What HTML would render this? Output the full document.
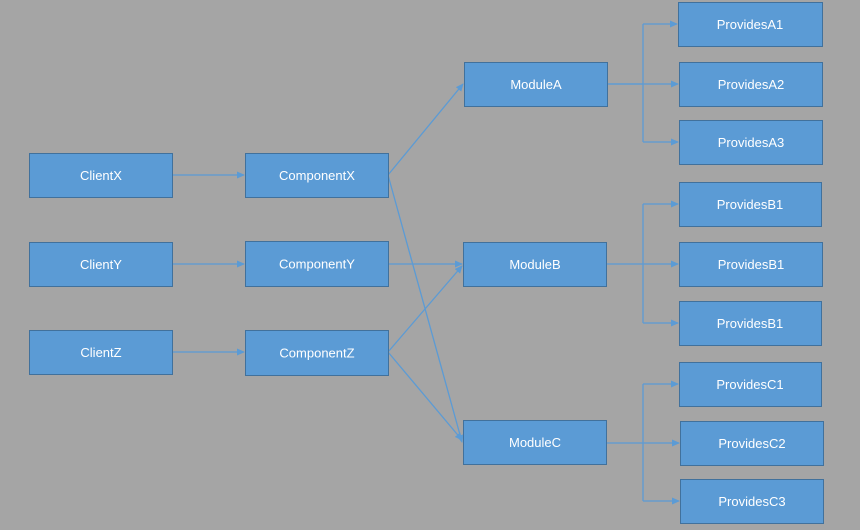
<!DOCTYPE html>
<html><head><meta charset="utf-8"><style>
html,body{margin:0;padding:0;background:#a5a5a5;}
svg{display:block;}
text{font-family:"Liberation Sans",sans-serif;font-size:13px;fill:#fff;text-anchor:middle;dominant-baseline:central;}
rect{fill:#5b9bd5;stroke:#41719c;stroke-width:1;}
line,polyline{stroke:#5b9bd5;stroke-width:1.3;fill:none;}
</style></head><body>
<svg width="860" height="530" viewBox="0 0 860 530">
<defs><marker id="a" markerWidth="8" markerHeight="8" refX="7" refY="3.5" orient="auto" markerUnits="userSpaceOnUse"><path d="M0,0 L8,3.5 L0,7 Z" fill="#5b9bd5"/></marker></defs>
<rect x="0" y="0" width="860" height="530" style="fill:#a5a5a5;stroke:none"/>
<!-- connectors -->
<line x1="172" y1="175" x2="244" y2="175" marker-end="url(#a)"/>
<line x1="172" y1="264" x2="244" y2="264" marker-end="url(#a)"/>
<line x1="172" y1="352" x2="244" y2="352" marker-end="url(#a)"/>
<line x1="388" y1="175" x2="463" y2="84" marker-end="url(#a)"/>
<line x1="388" y1="175" x2="462" y2="442" marker-end="url(#a)"/>
<line x1="388" y1="264" x2="462" y2="264" marker-end="url(#a)"/>
<line x1="388" y1="352" x2="462" y2="266" marker-end="url(#a)"/>
<line x1="388" y1="352" x2="462" y2="440" marker-end="url(#a)"/>
<line x1="607" y1="84" x2="643" y2="84"/>
<polyline points="643,24 643,142"/>
<line x1="643" y1="24" x2="677" y2="24" marker-end="url(#a)"/>
<line x1="607" y1="84" x2="678" y2="84" marker-end="url(#a)"/>
<line x1="643" y1="142" x2="678" y2="142" marker-end="url(#a)"/>
<polyline points="643,204 643,323"/>
<line x1="643" y1="204" x2="678" y2="204" marker-end="url(#a)"/>
<line x1="606" y1="264" x2="678" y2="264" marker-end="url(#a)"/>
<line x1="643" y1="323" x2="678" y2="323" marker-end="url(#a)"/>
<polyline points="643,384 643,501"/>
<line x1="643" y1="384" x2="678" y2="384" marker-end="url(#a)"/>
<line x1="606" y1="443" x2="679" y2="443" marker-end="url(#a)"/>
<line x1="643" y1="501" x2="679" y2="501" marker-end="url(#a)"/>
<!-- boxes -->
<rect x="29.5" y="153.5" width="143" height="44"/><text x="101" y="175.5">ClientX</text>
<rect x="29.5" y="242.5" width="143" height="44"/><text x="101" y="264.5">ClientY</text>
<rect x="29.5" y="330.5" width="143" height="44"/><text x="101" y="352.5">ClientZ</text>
<rect x="245.5" y="153.5" width="143" height="44"/><text x="317" y="175.5">ComponentX</text>
<rect x="245.5" y="241.5" width="143" height="45"/><text x="317" y="264">ComponentY</text>
<rect x="245.5" y="330.5" width="143" height="45"/><text x="317" y="353">ComponentZ</text>
<rect x="464.5" y="62.5" width="143" height="44"/><text x="536" y="84.5">ModuleA</text>
<rect x="463.5" y="242.5" width="143" height="44"/><text x="535" y="264.5">ModuleB</text>
<rect x="463.5" y="420.5" width="143" height="44"/><text x="535" y="442.5">ModuleC</text>
<rect x="678.5" y="2.5" width="144" height="44"/><text x="750" y="24.5">ProvidesA1</text>
<rect x="679.5" y="62.5" width="143" height="44"/><text x="751" y="84.5">ProvidesA2</text>
<rect x="679.5" y="120.5" width="143" height="44"/><text x="751" y="142.5">ProvidesA3</text>
<rect x="679.5" y="182.5" width="142" height="44"/><text x="750" y="204.5">ProvidesB1</text>
<rect x="679.5" y="242.5" width="143" height="44"/><text x="751" y="264.5">ProvidesB1</text>
<rect x="679.5" y="301.5" width="142" height="44"/><text x="750" y="323.5">ProvidesB1</text>
<rect x="679.5" y="362.5" width="142" height="44"/><text x="750" y="384.5">ProvidesC1</text>
<rect x="680.5" y="421.5" width="143" height="44"/><text x="752" y="443.5">ProvidesC2</text>
<rect x="680.5" y="479.5" width="143" height="44"/><text x="752" y="501.5">ProvidesC3</text>
</svg>
</body></html>
